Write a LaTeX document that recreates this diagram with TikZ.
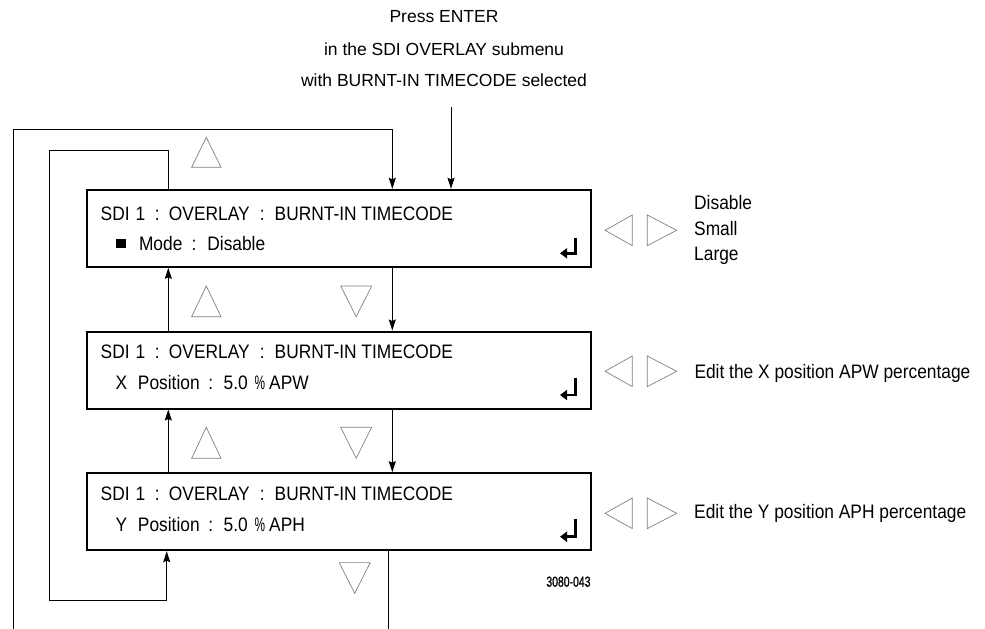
\documentclass[tikz,border=0pt]{standalone}
\usepackage{fontspec}
\usepackage{graphicx}
\setmainfont{Liberation Sans}[FakeStretch=0.89]
\newfontfamily\topfont{Liberation Sans}
\newfontfamily\numfont{Liberation Sans}[FakeStretch=0.72,FakeBold=1]
\usetikzlibrary{arrows.meta}
\newcommand\piece[2]{\makebox[0pt][l]{\hspace*{#1}#2}}
\newcommand\narrowpct{\scalebox{0.68}[1]{\%}}
\begin{document}
\begin{tikzpicture}[x=1pt,y=-1pt,
  menubox/.style={draw, line width=2pt, minimum width=503.4pt, minimum height=77pt, inner sep=0pt},
  conn/.style={line width=1pt},
  arr/.style={conn, line join=miter, -{Stealth[length=11pt,width=7pt,inset=1.5pt]}},
  navtri/.style={draw=black!50, line width=0.7pt, line join=miter},
  entersym/.style={line width=2.6pt, line join=miter, -{Triangle[length=7pt,width=10pt]}},
  txt/.style={anchor=base west, inner sep=0pt, font=\fontsize{19.5}{23}\selectfont},
  toptxt/.style={anchor=base, inner sep=0pt, font=\topfont\fontsize{17.5}{21}\selectfont}]
\useasboundingbox (0,0) rectangle (985,629);

% top text
\node[toptxt] (p1) at (444,22.7) {Press ENTER};
\node[toptxt] (p2) at (444,55) {in the SDI OVERLAY submenu};
\node[toptxt] (p3) at (444,86) {with BURNT-IN TIMECODE selected};

% boxes
\node[menubox] (b1) at (339,228.3) {};
\node[menubox] (b2) at (339,370) {};
\node[menubox] (b3) at (339,511.7) {};

% box texts
\node[txt] (t1a) at (100,220) {\piece{0pt}{SDI}\piece{35pt}{1}\piece{54.3pt}{:}\piece{68.3pt}{OVERLAY}\piece{159.3pt}{:}\piece{174pt}{BURNT-IN TIMECODE}};
\node[txt] (t1b) at (100,250.7) {\piece{15pt}{\raisebox{2.4pt}{\rule{10pt}{9pt}}}\piece{38.3pt}{Mode}\piece{90.9pt}{:}\piece{106.7pt}{Disable}};
\node[txt] (t2a) at (100,358.3) {\piece{0pt}{SDI}\piece{35pt}{1}\piece{54.3pt}{:}\piece{68.3pt}{OVERLAY}\piece{159.3pt}{:}\piece{174pt}{BURNT-IN TIMECODE}};
\node[txt] (t2b) at (100,389.3) {\piece{15pt}{X}\piece{37.3pt}{Position}\piece{107.6pt}{:}\piece{123pt}{5.0}\piece{154pt}{\narrowpct}\piece{168.5pt}{APW}};
\node[txt] (t3a) at (100,500) {\piece{0pt}{SDI}\piece{35pt}{1}\piece{54.3pt}{:}\piece{68.3pt}{OVERLAY}\piece{159.3pt}{:}\piece{174pt}{BURNT-IN TIMECODE}};
\node[txt] (t3b) at (100,531.7) {\piece{15pt}{Y}\piece{37.3pt}{Position}\piece{107.6pt}{:}\piece{123pt}{5.0}\piece{154pt}{\narrowpct}\piece{168.5pt}{APH}};

% enter symbols
\draw[entersym] (575.3,237.8) -- (575.3,253.3) -- (560,253.3);
\draw[entersym] (575.3,377.5) -- (575.3,395) -- (560,395);
\draw[entersym] (575.3,519.2) -- (575.3,536.7) -- (560,536.7);

% connectors
\coordinate (ent) at (451,106.7);
\draw[arr] (ent) -- (ent |- b1.north);

\coordinate (oL) at (13.3,629);
\coordinate (oT) at (13.3,129.3);
\coordinate (oR) at (392.3,129.3);
\draw[arr] (oL) -- (oT) -- (oR) -- (oR |- b1.north);
\coordinate (oB) at (388.3,629);
\draw[conn] (oB |- b3.south) -- (oB);

\coordinate (dx) at (392.3,0);
\draw[arr] (dx |- b1.south) -- (dx |- b2.north);
\draw[arr] (dx |- b2.south) -- (dx |- b3.north);

\coordinate (ux) at (168.3,0);
\draw[arr] (ux |- b2.north) -- (ux |- b1.south);
\draw[arr] (ux |- b3.north) -- (ux |- b2.south);

\coordinate (iT) at (49.3,150.7);
\coordinate (iB) at (49.3,600.7);
\coordinate (iE) at (166.7,600.7);
\draw[arr] (ux |- b1.north) -- (ux |- iT) -- (iT) -- (iB) -- (iE) -- (iE |- b3.south);

% up / down triangles
\draw[navtri] (206.3,137.3) -- ++(14.7,30) -- ++(-29.4,0) -- cycle;
\draw[navtri] (206.3,286) -- ++(14.7,30.7) -- ++(-29.4,0) -- cycle;
\draw[navtri] (206.3,427.3) -- ++(14.7,31) -- ++(-29.4,0) -- cycle;
\draw[navtri] (356.2,316.7) -- ++(-15.5,-30.7) -- ++(31,0) -- cycle;
\draw[navtri] (356.2,458.3) -- ++(-15.5,-31) -- ++(31,0) -- cycle;
\draw[navtri] (354.7,593.3) -- ++(-15.5,-30.7) -- ++(31,0) -- cycle;

% left / right triangles
\foreach \c in {230.3,371.3,513.3}{
  \draw[navtri] (605,\c) -- (632.3,\c-15.3) -- (632.3,\c+15.3) -- cycle;
  \draw[navtri] (676.7,\c) -- (647.3,\c-15.3) -- (647.3,\c+15.3) -- cycle;
}

% right texts
\node[txt] (r1a) at (694,209.3) {Disable};
\node[txt] (r1b) at (694,235) {Small};
\node[txt] (r1c) at (694,260) {Large};
\node[txt] (r2) at (694.3,378.3) {Edit the X position APW percentage};
\node[txt] (r3) at (694,518.3) {Edit the Y position APH percentage};

\node[anchor=base east, inner sep=0pt, font=\numfont\fontsize{14.5}{17}\selectfont] (fig) at (590.7,586.7) {3080-043};
\end{tikzpicture}
\end{document}
